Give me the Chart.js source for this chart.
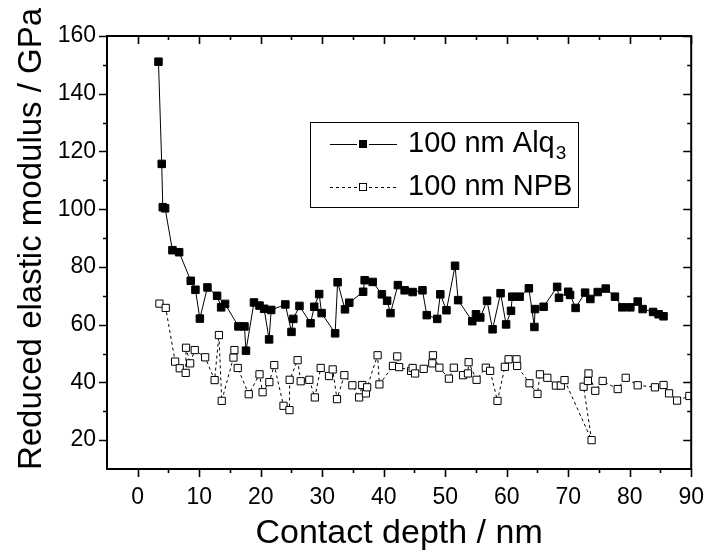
<!DOCTYPE html>
<html>
<head>
<meta charset="utf-8">
<script src="https://cdn.jsdelivr.net/npm/chart.js@4/dist/chart.umd.min.js"></script>
<style>
  html, body { margin: 0; padding: 0; background: #fff; }
  #wrap { width: 711px; height: 553px; }
</style>
</head>
<body>
<div id="wrap"><canvas id="c" width="711" height="553"></canvas></div>
<script>
// ---- data ----
const seriesNames = ["100 nm Alq", "100 nm NPB"];
const seriesSub = ["3", ""];

const alqDepth = [3.37, 3.9, 4.07, 4.45, 5.64, 6.73, 8.62, 9.38, 10.1, 11.33, 12.9, 13.56, 14.2, 16.37, 17.35, 17.6, 18.9, 19.8, 20.55, 21.36, 21.7, 24.0, 25.0, 25.3, 26.3, 28.1, 28.7, 29.5, 29.9, 32.1, 32.5, 33.7, 34.4, 36.65, 36.9, 38.2, 39.7, 40.55, 41.1, 42.3, 43.4, 44.7, 46.3, 47.0, 48.7, 49.2, 50.2, 51.6, 52.1, 54.4, 55.0, 55.7, 56.8, 57.7, 59.0, 59.9, 60.7, 60.9, 62.1, 63.6, 64.5, 64.6, 66.0, 68.2, 68.5, 70.0, 70.3, 71.2, 72.75, 73.6, 74.8, 76.1, 77.6, 78.8, 80.1, 81.3, 82.1, 83.8, 84.7, 85.5];
const alqModulus = [151.1, 115.7, 100.7, 100.3, 85.8, 85.1, 75.2, 72.1, 62.1, 72.9, 70.0, 66.0, 67.2, 59.4, 59.4, 51.0, 67.7, 66.6, 65.5, 54.9, 65.1, 67.0, 57.5, 62.0, 66.5, 60.5, 66.2, 70.6, 64.0, 57.0, 74.7, 65.3, 67.6, 71.4, 75.4, 74.8, 70.5, 68.3, 64.0, 73.7, 71.9, 71.3, 71.9, 63.3, 62.0, 70.5, 65.0, 80.4, 68.5, 61.2, 63.6, 62.5, 68.3, 58.4, 70.9, 60.1, 64.8, 69.7, 69.7, 72.6, 59.2, 65.4, 66.2, 73.1, 69.3, 71.4, 70.3, 65.8, 71.1, 68.9, 71.3, 72.5, 69.7, 66.0, 66.0, 68.0, 65.4, 64.4, 63.6, 62.9];

const npbDepth = [3.53, 4.55, 6.08, 6.83, 7.8, 7.85, 8.52, 9.27, 10.96, 12.5, 13.2, 13.66, 15.56, 15.72, 16.26, 18.05, 19.8, 20.3, 21.4, 22.2, 23.7, 24.67, 24.7, 26.0, 26.5, 27.9, 28.8, 29.75, 31.1, 31.7, 32.4, 33.6, 34.9, 36.0, 36.5, 37.1, 37.3, 39.0, 39.3, 41.5, 42.2, 42.5, 44.45, 44.7, 45.1, 46.5, 47.9, 48.0, 49.05, 50.6, 51.4, 52.9, 53.7, 53.8, 55.1, 56.6, 57.3, 58.5, 59.7, 60.3, 61.6, 61.7, 63.7, 65.0, 65.4, 66.6, 68.0, 68.8, 69.4, 73.8, 72.5, 73.2, 73.3, 74.4, 75.6, 78.05, 79.35, 81.3, 84.1, 85.5, 86.4, 87.7, 89.7];
const npbModulus = [67.3, 65.8, 47.2, 44.9, 43.3, 52.0, 46.6, 51.2, 48.7, 40.8, 56.4, 33.6, 48.6, 51.2, 45.0, 35.9, 42.8, 36.6, 40.1, 46.0, 31.9, 30.4, 40.9, 47.7, 40.4, 40.9, 34.8, 45.0, 42.2, 44.5, 34.2, 42.5, 39.0, 34.8, 39.1, 36.2, 38.3, 49.4, 39.3, 45.7, 49.0, 45.3, 44.0, 45.0, 43.1, 44.7, 46.6, 49.4, 45.1, 41.3, 45.1, 42.5, 43.1, 47.0, 40.9, 45.1, 44.0, 33.6, 45.4, 48.0, 48.0, 45.7, 39.7, 36.0, 42.8, 41.6, 38.9, 38.9, 40.8, 20.0, 38.5, 40.5, 43.1, 37.1, 40.5, 37.7, 41.6, 39.0, 38.3, 39.1, 36.2, 33.7, 35.3];

const xTickLabels = [0, 10, 20, 30, 40, 50, 60, 70, 80, 90];
const yTickLabels = [20, 40, 60, 80, 100, 120, 140, 160];
const xMinorTicks = [5, 15, 25, 35, 45, 55, 65, 75, 85];
const yMinorTicks = [30, 50, 70, 90, 110, 130, 150];
const xTitle = "Contact depth / nm";
const yTitle = "Reduced elastic modulus / GPa";

// ---- chart ----
const FONT = "'Liberation Sans', Arial, sans-serif";
const toPts = (xs, ys) => xs.map((x, i) => ({ x: x, y: ys[i] }));

const framePlugin = {
  id: 'frame',
  afterDraw(chart) {
    const ctx = chart.ctx;
    const a = chart.chartArea;
    const xs = chart.scales.x, ys = chart.scales.y;
    ctx.save();
    ctx.strokeStyle = '#000';
    ctx.lineWidth = 2;
    ctx.strokeRect(a.left, a.top, a.right - a.left, a.bottom - a.top);
    ctx.lineWidth = 1.6;
    ctx.beginPath();
    const xt = (v, len) => {
      const px = Math.round(xs.getPixelForValue(v)) + 0.5;
      ctx.moveTo(px, a.bottom); ctx.lineTo(px, a.bottom + len);   // bottom, outward
      ctx.moveTo(px, a.top); ctx.lineTo(px, a.top + len);         // top, inward
    };
    const yt = (v, len) => {
      const py = Math.round(ys.getPixelForValue(v)) + 0.5;
      ctx.moveTo(a.left, py); ctx.lineTo(a.left - len, py);       // left, outward
      ctx.moveTo(a.right, py); ctx.lineTo(a.right - len, py);     // right, inward
    };
    xTickLabels.forEach(v => xt(v, 8));
    xMinorTicks.forEach(v => xt(v, 4));
    yTickLabels.forEach(v => yt(v, 8));
    yMinorTicks.forEach(v => yt(v, 4));
    ctx.stroke();

    // axis titles
    ctx.fillStyle = '#000';
    ctx.textAlign = 'center';
    ctx.textBaseline = 'alphabetic';
    ctx.font = '34px ' + FONT;
    ctx.fillText(xTitle, (a.left + a.right) / 2, 543);
    ctx.save();
    ctx.font = '33px ' + FONT;
    ctx.translate(41, 239);
    ctx.rotate(-Math.PI / 2);
    ctx.fillText(yTitle, 0, 0);
    ctx.restore();

    // legend
    const lx = 310.5, ly = 122.5, lw = 268, lh = 85;
    ctx.fillStyle = '#fff';
    ctx.fillRect(lx, ly, lw, lh);
    ctx.lineWidth = 1;
    ctx.strokeStyle = '#000';
    ctx.strokeRect(lx, ly, lw, lh);
    const rows = [144, 187];
    chart.data.datasets.forEach((ds, i) => {
      const y = rows[i] + 0.5;
      ctx.save();
      ctx.lineWidth = 1;
      ctx.strokeStyle = '#000';
      ctx.setLineDash(ds.borderDash || []);
      ctx.beginPath();
      ctx.moveTo(330, y); ctx.lineTo(357, y);
      ctx.moveTo(369, y); ctx.lineTo(397, y);
      ctx.stroke();
      ctx.setLineDash([]);
      ctx.fillStyle = ds.pointBackgroundColor;
      ctx.fillRect(359.5, y - 4, 7, 7);
      ctx.strokeRect(359.5, y - 4, 7, 7);
      ctx.restore();
      ctx.fillStyle = '#000';
      ctx.font = '29px ' + FONT;
      ctx.textAlign = 'left';
      ctx.textBaseline = 'middle';
      ctx.fillText(seriesNames[i], 408, rows[i]);
      if (seriesSub[i]) {
        const w = ctx.measureText(seriesNames[i]).width;
        ctx.font = '19px ' + FONT;
        ctx.fillText(seriesSub[i], 408 + w + 1, rows[i] + 10);
      }
    });
    ctx.restore();
  }
};

new Chart(document.getElementById('c'), {
  type: 'scatter',
  data: {
    datasets: [
      {
        label: seriesNames[0] + '₃',
        data: toPts(alqDepth, alqModulus),
        showLine: true,
        borderColor: '#000',
        borderWidth: 1,
        pointStyle: 'rect',
        pointRadius: 5.3,
        pointBackgroundColor: '#000',
        pointBorderColor: '#000',
        pointBorderWidth: 1,
        tension: 0
      },
      {
        label: seriesNames[1],
        data: toPts(npbDepth, npbModulus),
        showLine: true,
        borderColor: '#000',
        borderWidth: 1,
        borderDash: [3, 3],
        pointStyle: 'rect',
        pointRadius: 5.1,
        pointBackgroundColor: '#fff',
        pointBorderColor: '#000',
        pointBorderWidth: 1,
        tension: 0
      }
    ]
  },
  options: {
    responsive: false,
    animation: false,
    devicePixelRatio: 1,
    layout: { padding: { left: 0, top: 36, right: 15, bottom: 0 } },
    plugins: { legend: { display: false }, tooltip: { enabled: false } },
    scales: {
      x: {
        type: 'linear',
        min: -5, max: 90,
        afterBuildTicks: s => { s.ticks = xTickLabels.map(v => ({ value: v })); },
        afterFit: s => { s.height = 84; },
        grid: { display: false, drawTicks: true, tickLength: 8 },
        border: { display: false },
        ticks: { color: '#000', font: { family: FONT, size: 23 }, padding: 7, maxRotation: 0, autoSkip: false }
      },
      y: {
        type: 'linear',
        min: 10, max: 160,
        afterBuildTicks: s => { s.ticks = yTickLabels.map(v => ({ value: v })); },
        afterFit: s => { s.width = 107; },
        grid: { display: false, drawTicks: true, tickLength: 8 },
        border: { display: false },
        ticks: { color: '#000', font: { family: FONT, size: 23 }, padding: 3, autoSkip: false }
      }
    }
  },
  plugins: [framePlugin]
});
</script>
</body>
</html>
